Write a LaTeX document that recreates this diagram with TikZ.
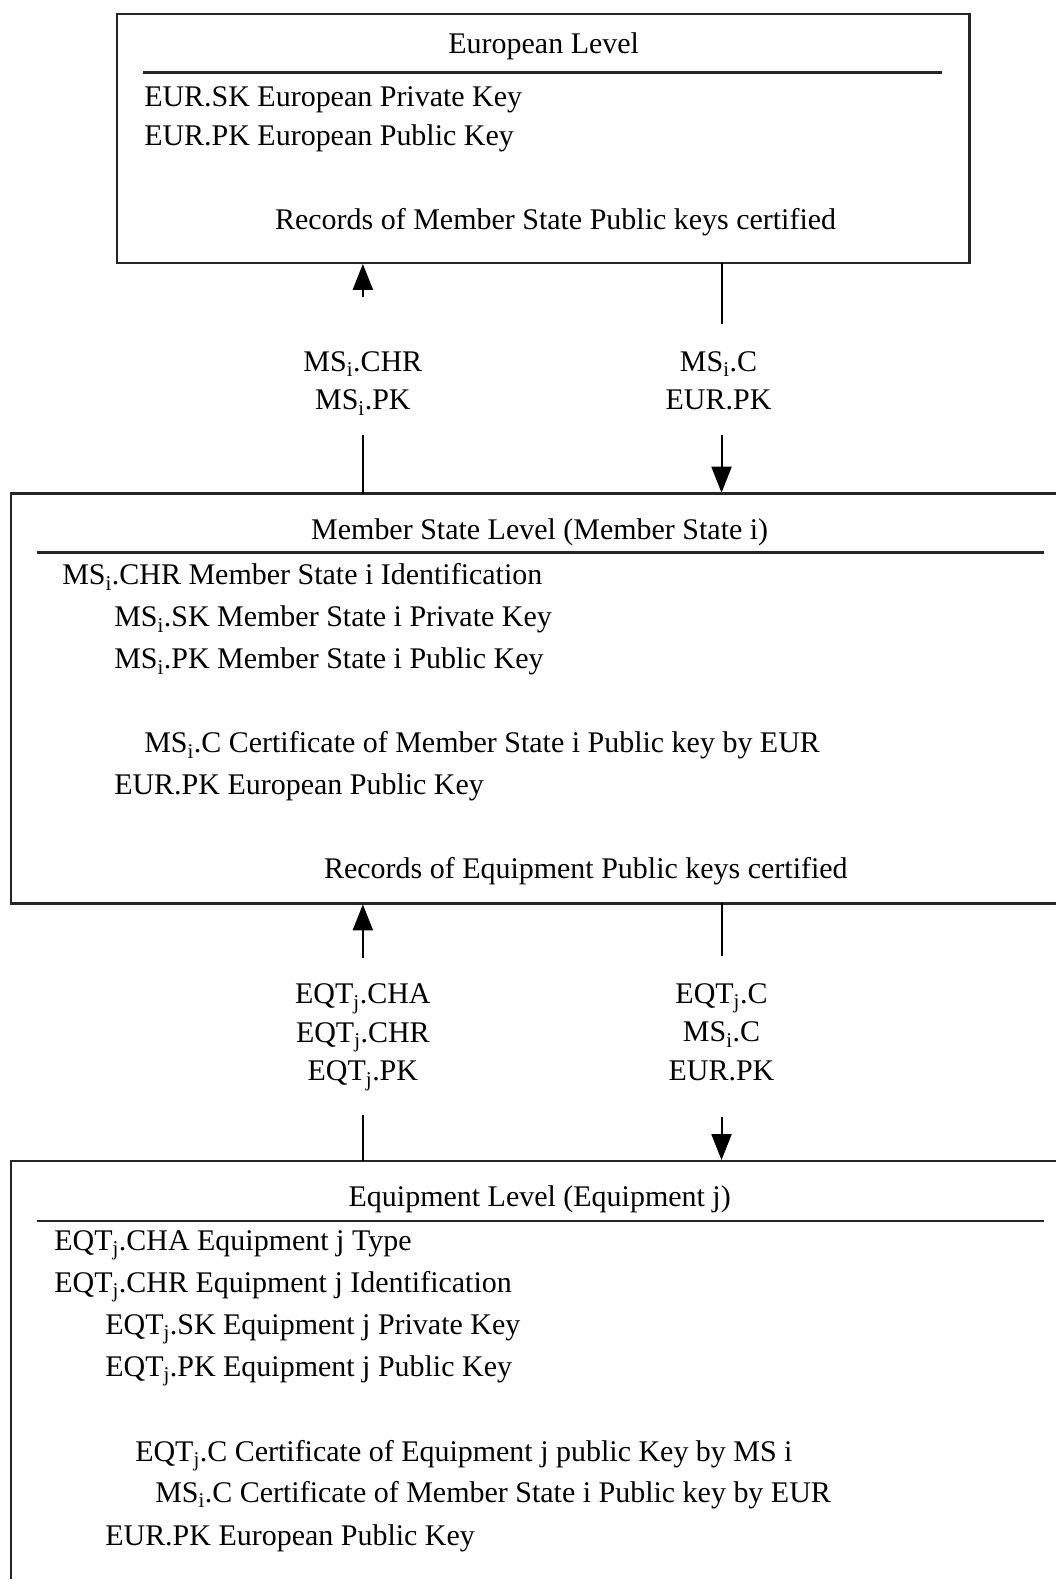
\documentclass[tikz,border=0pt]{standalone}
\usepackage{fontspec}
\setmainfont{Liberation Serif}
\usetikzlibrary{arrows.meta}

\begin{document}
\begin{tikzpicture}[scale=1.000000,x=1pt,y=1pt,
  boxline/.style={line width=2.6pt,color=black!85,line join=miter},
  rule/.style={line width=2.8pt,color=black!85},
  flowline/.style={line width=2pt,color=black},
  flowarrow/.style={line width=2pt,color=black,-{Triangle[length=26pt,width=20pt]}},
  rowtext/.style={anchor=mid west,inner sep=0pt,font=\fontsize{30pt}{38.5pt}\selectfont},
  headtext/.style={anchor=mid,inner sep=0pt,font=\fontsize{30pt}{38.5pt}\selectfont},
  msgtext/.style={align=center,inner sep=0pt,font=\fontsize{30pt}{38.5pt}\selectfont}]
\filldraw[color=white] (0.000000, 0.000000) rectangle (1057.000000, 1580.000000);
% Drawing boxes
% Box 1: European Level
\draw[boxline] (117.000000,1317.000000) rectangle (970.000000,1566.000000);
\draw[rule] (143.000000,1508.000000) -- (943.000000,1508.000000);
% Box 2: Member State Level (runs off the right edge)
\draw[boxline] (1057.000000,1086.000000) -- (11.000000,1086.000000) -- (11.000000,676.000000) -- (1057.000000,676.000000);
\draw[rule] (37.000000,1027.000000) -- (1045.000000,1027.000000);
% Box 3: Equipment Level (runs off the right and bottom edges)
\draw[boxline] (1057.000000,418.000000) -- (11.000000,418.000000) -- (11.000000,0.000000);
\draw[rule] (37.000000,358.000000) -- (1045.000000,358.000000);
% Done with boxes; drawing box texts
% Box 1
\node[headtext] (eurhead) at (544.000000,1529.000000) {European Level};
\node[rowtext] (eursk) at (144.000000,1476.000000) {EUR.SK European Private Key};
\node[rowtext] (eurpk) at (144.000000,1437.000000) {EUR.PK European Public Key};
\node[rowtext] (eurrec) at (275.000000,1353.000000) {Records of Member State Public keys certified};
% Box 2
\node[headtext] (mshead) at (540.000000,1042.000000) {Member State Level (Member State i)};
\node[rowtext] (mschr) at (62.000000,997.000000) {MS\textsubscript{i}.CHR Member State i Identification};
\node[rowtext] (mssk) at (114.000000,955.000000) {MS\textsubscript{i}.SK Member State i Private Key};
\node[rowtext] (mspk) at (114.000000,913.000000) {MS\textsubscript{i}.PK Member State i Public Key};
\node[rowtext] (msc) at (144.000000,829.000000) {MS\textsubscript{i}.C Certificate of Member State i Public key by EUR};
\node[rowtext] (mseurpk) at (114.000000,787.000000) {EUR.PK European Public Key};
\node[rowtext] (msrec) at (324.000000,703.000000) {Records of Equipment Public keys certified};
% Box 3
\node[headtext] (eqthead) at (540.000000,375.000000) {Equipment Level (Equipment j)};
\node[rowtext] (eqtcha) at (54.000000,331.000000) {EQT\textsubscript{j}.CHA Equipment j Type};
\node[rowtext] (eqtchr) at (54.000000,289.000000) {EQT\textsubscript{j}.CHR Equipment j Identification};
\node[rowtext] (eqtsk) at (105.000000,247.000000) {EQT\textsubscript{j}.SK Equipment j Private Key};
\node[rowtext] (eqtpk) at (105.000000,205.000000) {EQT\textsubscript{j}.PK Equipment j Public Key};
\node[rowtext] (eqtc) at (135.000000,120.000000) {EQT\textsubscript{j}.C Certificate of Equipment j public Key by MS i};
\node[rowtext] (eqtmsc) at (155.000000,79.000000) {MS\textsubscript{i}.C Certificate of Member State i Public key by EUR};
\node[rowtext] (eqteurpk) at (105.000000,36.000000) {EUR.PK European Public Key};
% Done with box texts; drawing messages
\node[msgtext] (msup) at (363.000000,1196.500000) {MS\textsubscript{i}.CHR\\MS\textsubscript{i}.PK};
\node[msgtext] (msdown) at (719.000000,1199.000000) {MS\textsubscript{i}.C\\EUR.PK};
\node[msgtext] (eqtup) at (363.000000,542.000000) {EQT\textsubscript{j}.CHA\\EQT\textsubscript{j}.CHR\\EQT\textsubscript{j}.PK};
\node[msgtext] (eqtdown) at (722.000000,547.000000) {EQT\textsubscript{j}.C\\MS\textsubscript{i}.C\\EUR.PK};
% Connector ends
\coordinate (msupfoot) at (363.000000,1086.000000);
\coordinate (msupmid) at (363.000000,1145.000000);
\coordinate (msupstart) at (363.000000,1283.000000);
\coordinate (msuptip) at (363.000000,1316.000000);
\coordinate (msdownfoot) at (722.000000,1317.000000);
\coordinate (msdownmid) at (722.000000,1256.000000);
\coordinate (msdownstart) at (722.000000,1145.000000);
\coordinate (msdowntip) at (722.000000,1087.000000);
\coordinate (eqtupfoot) at (363.000000,418.000000);
\coordinate (eqtupmid) at (363.000000,464.000000);
\coordinate (eqtupstart) at (363.000000,621.000000);
\coordinate (eqtuptip) at (363.000000,675.000000);
\coordinate (eqtdownfoot) at (722.000000,676.000000);
\coordinate (eqtdownmid) at (722.000000,623.000000);
\coordinate (eqtdownstart) at (722.000000,462.000000);
\coordinate (eqtdowntip) at (722.000000,419.000000);
% Drawing connectors
\draw[flowline] (msupfoot) -- (msupmid);
\draw[flowarrow] (msupstart) -- (msuptip);
\draw[flowline] (msdownfoot) -- (msdownmid);
\draw[flowarrow] (msdownstart) -- (msdowntip);
\draw[flowline] (eqtupfoot) -- (eqtupmid);
\draw[flowarrow] (eqtupstart) -- (eqtuptip);
\draw[flowline] (eqtdownfoot) -- (eqtdownmid);
\draw[flowarrow] (eqtdownstart) -- (eqtdowntip);
% Done with connectors
\end{tikzpicture}
\end{document}
